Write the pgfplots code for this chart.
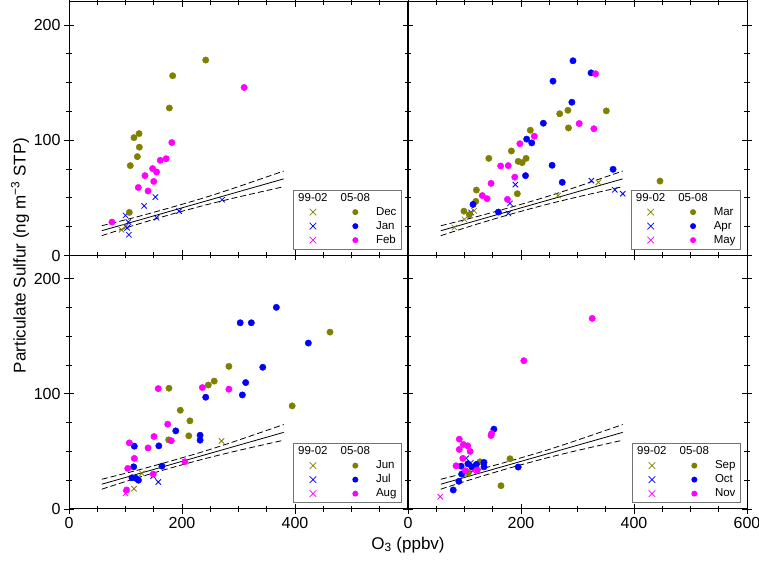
\documentclass[border=0pt]{standalone}
\usepackage{fontspec}
\setmainfont{Liberation Sans}
\usepackage{pgfplots}
\pgfplotsset{compat=1.18}
\definecolor{olv}{RGB}{128,128,0}
\definecolor{blu}{RGB}{0,0,255}
\definecolor{mag}{RGB}{255,0,255}
\newsavebox\boxXo \newsavebox\boxXb \newsavebox\boxXm
\newsavebox\boxDo \newsavebox\boxDb \newsavebox\boxDm
\newcommand{\mkx}[2]{\sbox#1{\tikz[baseline=-0.6ex]{\draw[#2,line width=0.7pt] (-3.3pt,-3.3pt)--(3.3pt,3.3pt) (-3.3pt,3.3pt)--(3.3pt,-3.3pt);}}}
\newcommand{\mkd}[2]{\sbox#1{\tikz[baseline=-0.6ex]{\fill[#2] (0,0) circle (3pt);}}}
\newcommand{\legtab}[3]{\begin{tabular}{@{}c@{\hspace{13pt}}c@{\hspace{6pt}}l@{}}99-02 & 05-08 & \\ \usebox\boxXo & \usebox\boxDo & #1\\ \usebox\boxXb & \usebox\boxDb & #2\\ \usebox\boxXm & \usebox\boxDm & #3\end{tabular}}
\tikzset{legbox/.style={draw=black!55, fill=white, line width=0.8pt, anchor=south east,
   inner xsep=5pt, inner ysep=1.5pt, font=\fontsize{11.5}{14}\selectfont}}
\pgfplotsset{
 panel/.style={
  scale only axis, width=339pt, height=253.5pt,
  xmin=0,xmax=600,ymin=0,ymax=220,
  xtick={0,200,400,600}, ytick={0,100,200},
  minor x tick num=3, minor y tick num=3,
  clip=false,
  tick align=center, tickwidth=10pt, subtickwidth=6pt,
  tick style={draw=black, line width=0.9pt},
  axis line style={line width=1pt},
  ticklabel style={font=\fontsize{16}{16}\selectfont},
  /pgf/number format/assume math mode=true,
 },
 xm/.style={only marks, mark=x, mark size=3.8pt, mark options={line width=0.8pt}},
 dm/.style={only marks, mark=*, mark size=3.2pt},
}
\newcommand{\fitlines}{%
 \addplot[black, line width=0.8pt] coordinates {(58,21.5)(380,66.5)};
 \addplot[black, line width=0.8pt, dash pattern=on 6pt off 3pt, smooth] coordinates {(58,25.8)(120,33.5)(180,41.6)(240,50.2)(300,59.8)(380,73.3)};
 \addplot[black, line width=0.8pt, dash pattern=on 6pt off 3pt, smooth] coordinates {(58,17.2)(120,26.9)(180,35.6)(240,43.6)(300,50.8)(380,59.7)};
}
\begin{document}
\mkx\boxXo{olv}\mkx\boxXb{blu}\mkx\boxXm{mag}%
\mkd\boxDo{olv}\mkd\boxDb{blu}\mkd\boxDm{mag}%
\begin{tikzpicture}
% top-left
\begin{axis}[panel, at={(0pt,253.5pt)}, anchor=south west, xticklabels={}]
\fitlines
\addplot[xm, olv] coordinates {(93,22.3)(100,25)};
\addplot[xm, blu] coordinates {(153,50.7)(133,43)(100,34.8)(105,29)(155,32.8)(195,38.5)(271,48.4)(106,18)(103,24)};
\addplot[dm, olv] coordinates {(242,169.6)(183.5,156)(177.6,128)(124,105.8)(115,102.3)(124.5,94)(121,85.8)(108.5,78)(106.8,37.4)};
\addplot[dm, mag] coordinates {(310,145.8)(182,98)(172,84)(161.6,82.6)(148,75.4)(155,72.5)(134.5,69.3)(150,64.3)(122.7,59)(140,56)(76,29)};
\node[legbox] at (rel axis cs:0.982,0.024) {\legtab{Dec}{Jan}{Feb}};
\end{axis}
% top-right
\begin{axis}[panel, at={(339pt,253.5pt)}, anchor=south west, xticklabels={}, yticklabels={}]
\fitlines
\addplot[xm, olv] coordinates {(82,24.3)(100,31.3)(117,38.8)(265.5,52)(337,63.5)};
\addplot[xm, blu] coordinates {(190,61.5)(180.5,45.2)(177.5,36.5)(111.5,37.4)(324.5,65)(366,57)(380,53.6)};
\addplot[dm, olv] coordinates {(351,125.5)(283,126)(268.5,123)(284,110.7)(216.5,108.7)(183,90.7)(209,84.3)(195,81.7)(202,80.6)(143,84.3)(121,56.8)(120,47)(99,38.5)(108.5,35.4)(193.5,53.6)(446,64.6)};
\addplot[dm, blu] coordinates {(292,169)(324,158.5)(256.6,151.3)(290,133)(239.5,114.8)(210,101)(219,97.7)(255,78.3)(363,74.8)(208,69.3)(273,63.5)(115,44.3)(160,37.7)};
\addplot[dm, mag] coordinates {(332,157.7)(303,114.5)(329,110)(223.5,103.5)(198,97)(164,77.7)(177.5,78)(189,68)(147,62.6)(131.5,52)(140,49.3)(176,48.7)};
\node[legbox] at (rel axis cs:0.982,0.024) {\legtab{Mar}{Apr}{May}};
\end{axis}
% bottom-left
\begin{axis}[panel, at={(0pt,0pt)}, anchor=south west, xticklabels={0,200,400,{}}]
\fitlines
\addplot[xm, olv] coordinates {(270,59)(129,30.9)(115,17.6)};
\addplot[xm, blu] coordinates {(158,23.4)(149,28.6)};
\addplot[xm, mag] coordinates {(100,13.6)};
\addplot[dm, olv] coordinates {(462,153.5)(283,123.8)(257,111)(246.6,107.6)(177,104.8)(395,89.5)(197,85.7)(214,76.5)(212,63.5)(176.4,60)};
\addplot[dm, blu] coordinates {(367,175)(303,161.6)(322.7,161.6)(423.6,144)(343,123)(312.7,109.7)(306.8,99)(242,97)(189,67.8)(232,64)(232,59.7)(159,54.8)(115.6,54.5)(164.6,37.2)(114.5,36.6)(111.5,27.1)(118.6,26.6)(123,25)};
\addplot[dm, mag] coordinates {(158,104.5)(236,105.4)(283,104)(174.7,73.6)(150.4,62.9)(181,59.2)(106.8,57.4)(140,53)(115.6,43.9)(205,41)(104,35.2)(149,30.3)(102,16.5)};
\node[legbox] at (rel axis cs:0.982,0.024) {\legtab{Jun}{Jul}{Aug}};
\end{axis}
% bottom-right
\begin{axis}[panel, at={(339pt,0pt)}, anchor=south west, yticklabels={}]
\fitlines
\addplot[xm, olv] coordinates {(104,30)};
\addplot[xm, blu] coordinates {(111,40)(103,44)};
\addplot[xm, mag] coordinates {(57,10.7)(115,33)};
\addplot[dm, olv] coordinates {(180.5,43.6)(164.6,20.2)(127.4,41)(106.8,31.5)};
\addplot[dm, blu] coordinates {(152,69.3)(195,36.4)(134.5,40.4)(134.5,36.6)(121,38.7)(112.7,36.6)(106,39.2)(94,37.2)(95,30.3)(90,24)(80,16.5)};
\addplot[dm, mag] coordinates {(326,165.4)(205,128.7)(148,65.5)(147,63.8)(90.8,60.6)(98,56)(105.7,54.8)(90.8,51.7)(110,50)(97,43.9)(85,37.5)(101.4,33.2)(122.7,33.8)};
\node[legbox] at (rel axis cs:0.982,0.024) {\legtab{Sep}{Oct}{Nov}};
\end{axis}
\node[rotate=90, font=\fontsize{17}{17}\selectfont] at (-49pt,253.5pt) {Particulate Sulfur (ng m\textsuperscript{−3} STP)};
\node[font=\fontsize{17}{17}\selectfont] at (339pt,-36pt) {O\textsubscript{3} (ppbv)};
\pgfresetboundingbox
\path (-69pt,-52pt) rectangle (690pt,509pt);
\end{tikzpicture}
\end{document}
